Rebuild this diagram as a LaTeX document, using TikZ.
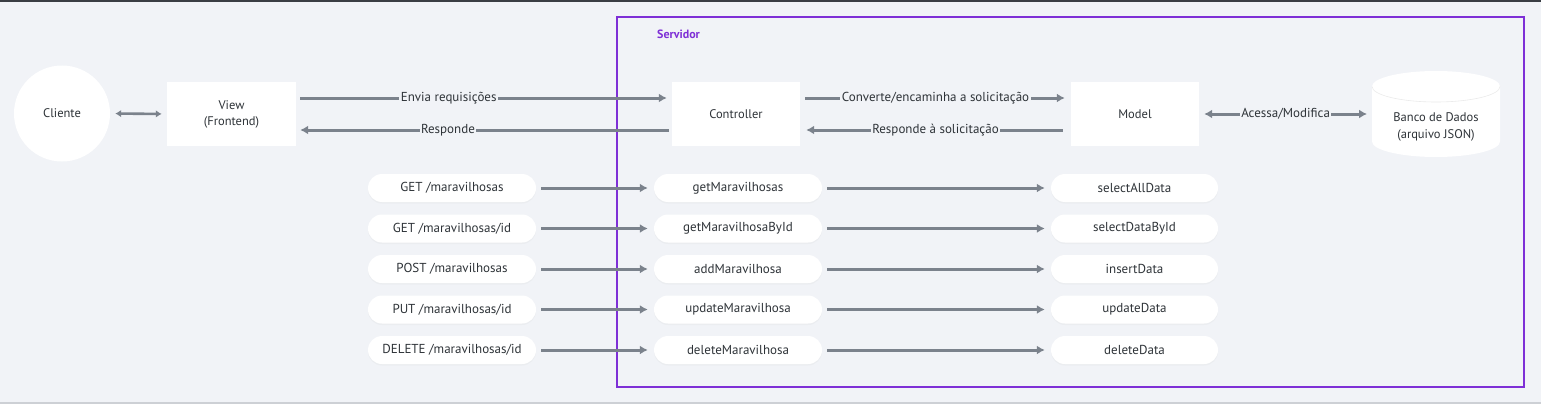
\documentclass[tikz,border=0pt]{standalone}
\usepackage{fontspec}
\setmainfont{PT Sans}
\usetikzlibrary{arrows.meta,shadows}
\definecolor{bgc}{HTML}{F1F3F7}
\definecolor{arrc}{HTML}{7B828C}
\definecolor{txtc}{HTML}{2E3338}
\definecolor{purp}{HTML}{7E2FD6}
\definecolor{topband}{HTML}{3A3E44}
\definecolor{botline}{HTML}{CDD0D5}
\tikzset{
  box/.style={rectangle, fill=white, minimum width=128pt, minimum height=64pt, inner sep=0pt,
    align=center, text=txtc, font=\fontsize{12.5}{16}\selectfont},
  pill/.style={rectangle, rounded corners=14pt, fill=white, minimum width=168pt, minimum height=28pt,
    inner sep=0pt, text=txtc, font=\fontsize{13}{14}\selectfont,
    drop shadow={opacity=0.05, shadow xshift=0pt, shadow yshift=-1.5pt}},
  conn/.style={draw=arrc, line width=3pt, -{Latex[length=8pt,width=9pt]}},
  dconn/.style={draw=arrc, line width=3pt, {Latex[length=8pt,width=9pt]}-{Latex[length=8pt,width=9pt]}},
  sdconn/.style={draw=arrc, line width=2.6pt, {Latex[length=6pt,width=7.5pt]}-{Latex[length=6pt,width=7.5pt]}},
  lbl/.style={fill=bgc, inner sep=1.5pt, text=txtc, font=\fontsize{13}{14}\selectfont}
}
\begin{document}
\begin{tikzpicture}[x=1pt,y=-1pt]
\useasboundingbox (0,0) rectangle (1541,404);
\fill[bgc] (0,0) rectangle (1541,404);
\fill[topband] (0,0) rectangle (1541,2);
\fill[botline] (0,401.5) rectangle (1541,404);

% server frame
\draw[purp, line width=1.4pt] (617,17) rectangle (1524,387);
\node[anchor=west, text=purp, font=\bfseries\fontsize{12}{13}\selectfont, inner sep=0pt] (srv) at (657,34) {Servidor};

% main nodes
\node[circle, fill=white, minimum size=96pt, inner sep=0pt, text=txtc, font=\fontsize{12.5}{14}\selectfont] (cli) at (62,113.5) {Cliente};
\node[box, minimum width=129pt] (view) at (231.5,114) {View\\(Frontend)};
\node[box] (ctrl) at (736,114) {Controller};
\node[box] (model) at (1135,114) {Model};

% database cylinder
\fill[white] (1372,86.5) -- (1372,141.5) arc[start angle=180, end angle=0, x radius=64, y radius=15.5]
  -- (1500,86.5) arc[start angle=0, end angle=-180, x radius=64, y radius=15.5] -- cycle;
\draw[black!8, line width=0.6pt] (1372,86.5) arc[start angle=180, end angle=0, x radius=64, y radius=15.5];
\coordinate (dbw) at (1372,114);
\node[inner sep=0pt, align=center, text=txtc, font=\fontsize{12.5}{17.5}\selectfont] (db) at (1436,127) {Banco de Dados\\(arquivo JSON)};

% top connectors
\draw[sdconn, shorten <=5pt, shorten >=5pt] (cli.east) -- (view.west);
\draw[conn, shorten <=4pt, shorten >=5pt] ([yshift=16pt]view.east) -- ([yshift=16pt]ctrl.west)
  node[lbl, pos=0.406] {Envia requisições};
\draw[conn, shorten <=3pt, shorten >=4pt] ([yshift=-16pt]ctrl.west) -- ([yshift=-16pt]view.east)
  node[lbl, pos=0.596] {Responde};
\draw[conn, shorten <=5pt, shorten >=6pt] ([yshift=16pt]ctrl.east) -- ([yshift=16pt]model.west)
  node[lbl, pos=0.5] {Converte/encaminha a solicitação};
\draw[conn, shorten <=8pt, shorten >=6pt] ([yshift=-16pt]model.west) -- ([yshift=-16pt]ctrl.east)
  node[lbl, pos=0.5] {Responde à solicitação};
\draw[dconn, shorten <=5pt, shorten >=5pt] (model.east) -- (dbw)
  node[lbl, pos=0.5] {Acessa/Modifica};

% rows
\node[pill] (r1) at (452,188)   {GET /maravilhosas};
\node[pill] (r2) at (452,228.5) {GET /maravilhosas/id};
\node[pill] (r3) at (452,269)   {POST /maravilhosas};
\node[pill] (r4) at (452,309.5) {PUT /maravilhosas/id};
\node[pill] (r5) at (452,350)   {DELETE /maravilhosas/id};
\node[pill] (c1) at (738,188)   {getMaravilhosas};
\node[pill] (c2) at (738,228.5) {getMaravilhosaById};
\node[pill] (c3) at (738,269)   {addMaravilhosa};
\node[pill] (c4) at (738,309.5) {updateMaravilhosa};
\node[pill] (c5) at (738,350)   {deleteMaravilhosa};
\node[pill, minimum width=167pt] (m1) at (1134.5,188)   {selectAllData};
\node[pill, minimum width=167pt] (m2) at (1134.5,228.5) {selectDataById};
\node[pill, minimum width=167pt] (m3) at (1134.5,269)   {insertData};
\node[pill, minimum width=167pt] (m4) at (1134.5,309.5) {updateData};
\node[pill, minimum width=167pt] (m5) at (1134.5,350)   {deleteData};
\foreach \i in {1,...,5}{
  \draw[conn, shorten <=5pt, shorten >=6pt] (r\i.east) -- (c\i.west);
  \draw[conn, shorten <=5pt, shorten >=6pt] (c\i.east) -- (m\i.west);
}
\end{tikzpicture}
\end{document}
